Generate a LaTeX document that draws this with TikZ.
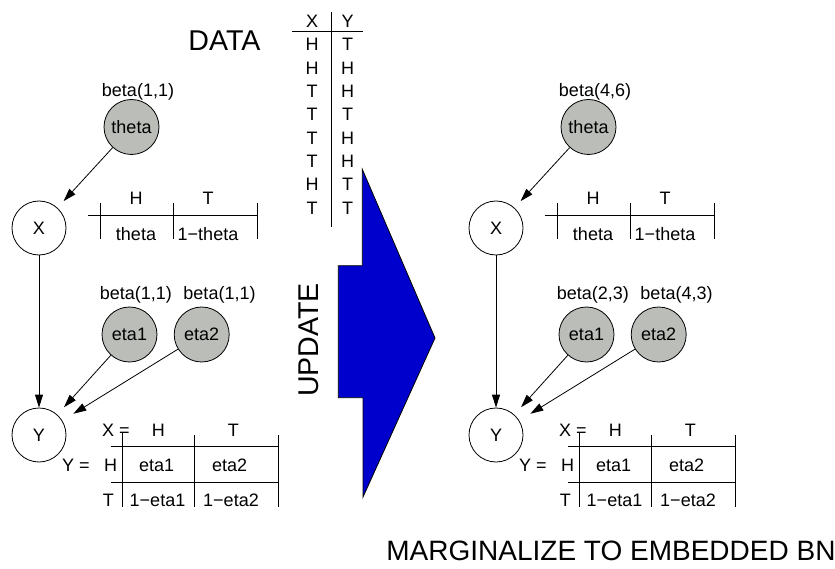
\documentclass[tikz,border=0pt]{standalone}
\usepackage{fontspec}
\setmainfont{Liberation Sans}
\usetikzlibrary{arrows.meta}

\definecolor{priorgray}{RGB}{186,189,184}
\definecolor{updateblue}{RGB}{0,0,204}

% one copy of the coin network: prefix, shift, the three priors
\newcommand{\coinnet}[5]{%
\begin{scope}[xshift=#2]
	\node[param] (#1-theta) at (131.5,127) {theta};
	\node[lbl] (#1-btheta) at (138,97) {#3};
	\node[var] (#1-X) at (39,228) {X};
	\node[var] (#1-Y) at (39,435) {Y};
	\node[param] (#1-eta1) at (129.5,334.5) {eta1};
	\node[param] (#1-eta2) at (201.7,334.5) {eta2};
	\node[lbl] (#1-beta1) at (135.8,299) {#4};
	\node[lbl] (#1-beta2) at (219.5,299) {#5};
	\draw[->] (#1-X) -- (#1-Y);
	\draw[->, shorten >=9pt] (#1-theta) -- (#1-X);
	\draw[->, shorten >=10pt] (#1-eta1) -- (#1-Y);
	\draw[->, shorten >=13pt] (#1-eta2) -- (#1-Y);
	% table for X
	\draw (88,215) -- (257,215);
	\foreach \x in {100,173,257} \draw (\x,203) -- (\x,239);
	\node[lbl] (#1-xh) at (136,205) {H};
	\node[lbl] (#1-xt) at (208,205) {T};
	\node[lbl] (#1-px1) at (136,241) {theta};
	\node[lbl] (#1-px2) at (208,241) {1−theta};
	% table for Y given X
	\draw (110.7,446.7) -- (278,446.7) (110.7,482.7) -- (278,482.7);
	\draw (122.3,433) -- (122.3,507) (194.3,435) -- (194.3,507) (278,435) -- (278,507);
	\node[lbl] (#1-xeq) at (116,436.5) {X =};
	\node[lbl] (#1-yxh) at (158.3,436.5) {H};
	\node[lbl] (#1-yxt) at (233.3,436.5) {T};
	\node[lbl] (#1-yeq) at (76,471) {Y =};
	\node[lbl] (#1-yh) at (110.7,471) {H};
	\node[lbl] (#1-yt) at (108.3,506) {T};
	\node[lbl] (#1-p11) at (156.7,471) {eta1};
	\node[lbl] (#1-p12) at (229.7,471) {eta2};
	\node[lbl] (#1-p21) at (157.5,506) {1−eta1};
	\node[lbl] (#1-p22) at (231,506) {1−eta2};
\end{scope}}

\begin{document}
\begin{tikzpicture}[x=1pt, y=-1pt, line width=0.8pt, >={Triangle[length=13pt,width=8pt]},
	every node/.style={font=\fontsize{18}{21}\selectfont},
	lbl/.style={anchor=base, inner sep=0pt},
	big/.style={font=\fontsize{28.6}{32}\selectfont, inner sep=0pt},
	param/.style={circle, draw, fill=priorgray, minimum size=55pt, inner sep=0pt},
	var/.style={circle, draw, minimum size=54pt, inner sep=0pt}]
	\useasboundingbox (0,0) rectangle (835,569);

	\coinnet{prior}{0}{beta(1,1)}{beta(1,1)}{beta(1,1)}
	\coinnet{post}{457}{beta(4,6)}{beta(2,3)}{beta(4,3)}

	% the data
	\node[big, anchor=base] (data) at (224.5,51) {DATA};
	\node[lbl] (dx) at (312,27.5) {X};
	\node[lbl] (dy) at (347.7,27.5) {Y};
	\draw (292,31.7) -- (363,31.7) (331.7,12) -- (331.7,227);
	\foreach \a/\b [count=\i from 0] in {H/T,H/H,T/H,T/T,T/H,T/H,H/T,T/T} {
		\node[lbl] (dx\i) at (312,51+23.3*\i) {\a};
		\node[lbl] (dy\i) at (347.7,51+23.3*\i) {\b};
	}

	% update arrow
	\draw[fill=updateblue] (362.3,169.3) -- (435,338) -- (363,497) -- (363,397.7)
		-- (338.3,397.7) -- (338.3,265.7) -- (362.3,265.7) -- cycle;
	\node[big, rotate=90] (update) at (309,340) {UPDATE};

	\node[big, font=\fontsize{28}{32}\selectfont, anchor=base west] (marg) at (386,560) {MARGINALIZE TO EMBEDDED BN};
\end{tikzpicture}
\end{document}
